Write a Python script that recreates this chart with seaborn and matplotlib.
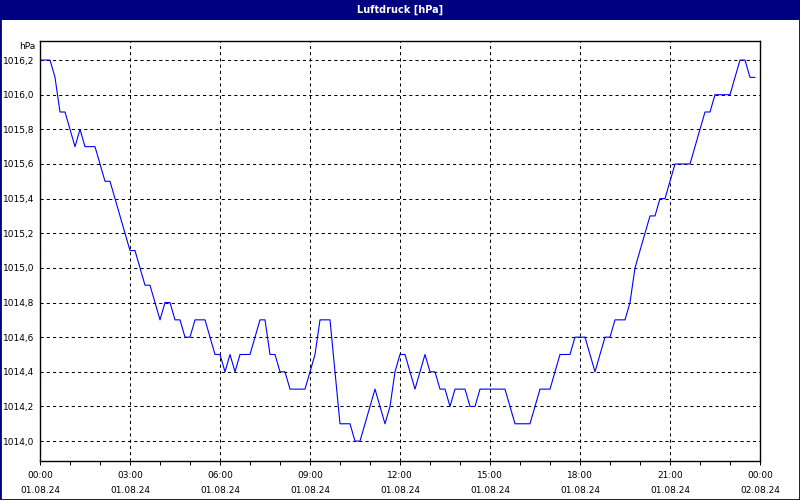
import pandas as pd
import seaborn as sns
import matplotlib.pyplot as plt
import matplotlib.dates as mdates
from matplotlib.patches import Rectangle
from matplotlib.ticker import FuncFormatter, MultipleLocator

# Luftdruck alle 10 Minuten, 01.08.24 00:00 bis 23:50
start = "2024-08-01 00:00"
pressure = [
    1016.2, 1016.2, 1016.2, 1016.1, 1015.9, 1015.9, 1015.8, 1015.7, 1015.8, 1015.7, 1015.7, 1015.7,
    1015.6, 1015.5, 1015.5, 1015.4, 1015.3, 1015.2, 1015.1, 1015.1, 1015.0, 1014.9, 1014.9, 1014.8,
    1014.7, 1014.8, 1014.8, 1014.7, 1014.7, 1014.6, 1014.6, 1014.7, 1014.7, 1014.7, 1014.6, 1014.5,
    1014.5, 1014.4, 1014.5, 1014.4, 1014.5, 1014.5, 1014.5, 1014.6, 1014.7, 1014.7, 1014.5, 1014.5,
    1014.4, 1014.4, 1014.3, 1014.3, 1014.3, 1014.3, 1014.4, 1014.5, 1014.7, 1014.7, 1014.7, 1014.4,
    1014.1, 1014.1, 1014.1, 1014.0, 1014.0, 1014.1, 1014.2, 1014.3, 1014.2, 1014.1, 1014.2, 1014.4,
    1014.5, 1014.5, 1014.4, 1014.3, 1014.4, 1014.5, 1014.4, 1014.4, 1014.3, 1014.3, 1014.2, 1014.3,
    1014.3, 1014.3, 1014.2, 1014.2, 1014.3, 1014.3, 1014.3, 1014.3, 1014.3, 1014.3, 1014.2, 1014.1,
    1014.1, 1014.1, 1014.1, 1014.2, 1014.3, 1014.3, 1014.3, 1014.4, 1014.5, 1014.5, 1014.5, 1014.6,
    1014.6, 1014.6, 1014.5, 1014.4, 1014.5, 1014.6, 1014.6, 1014.7, 1014.7, 1014.7, 1014.8, 1015.0,
    1015.1, 1015.2, 1015.3, 1015.3, 1015.4, 1015.4, 1015.5, 1015.6, 1015.6, 1015.6, 1015.6, 1015.7,
    1015.8, 1015.9, 1015.9, 1016.0, 1016.0, 1016.0, 1016.0, 1016.1, 1016.2, 1016.2, 1016.1, 1016.1,
]
times = pd.date_range(start, periods=len(pressure), freq="10min")
df = pd.DataFrame({"zeit": times, "hPa": pressure})

sns.set_style("white")
plt.rcParams['font.family'] = ['DejaVu Sans']
plt.rcParams['text.color'] = 'black'
plt.rcParams['xtick.color'] = 'black'
plt.rcParams['ytick.color'] = 'black'

fig = plt.figure(figsize=(8, 5), dpi=100)
fig.patch.set_facecolor("white")
ax = fig.add_axes([0.05, 0.078, 0.90, 0.84])

sns.lineplot(data=df, x="zeit", y="hPa", ax=ax, color="#0000ff", linewidth=0.8)

ax.set_xlim(pd.Timestamp("2024-08-01 00:00"), pd.Timestamp("2024-08-02 00:00"))
ax.set_ylim(1013.885, 1016.31)
ax.set_xlabel("")
ax.set_ylabel("")

ax.xaxis.set_major_locator(mdates.HourLocator(byhour=range(0, 24, 3)))
ax.xaxis.set_minor_locator(mdates.HourLocator())
ax.xaxis.set_major_formatter(mdates.DateFormatter("%H:%M\n%d.%m.%y"))
ax.yaxis.set_major_locator(MultipleLocator(0.2))
ax.yaxis.set_major_formatter(FuncFormatter(lambda v, p: f"{v:.1f}".replace(".", ",")))

ax.grid(True, which="major", color="black", linestyle=(0, (3, 3)), linewidth=0.75)
for s in ax.spines.values():
    s.set_color("black")
    s.set_linewidth(1)

ax.tick_params(axis="x", which="both", direction="out", length=3, width=0.75,
               bottom=True, labelsize=6.5, pad=4, color="black", labelcolor="black")
ax.tick_params(axis="y", length=0, labelsize=6.5, pad=4, labelcolor="black")
for lbl in ax.get_xticklabels():
    lbl.set_linespacing(1.9)

ax.annotate("hPa", xy=(0, 1), xycoords="axes fraction", xytext=(-3, -4),
            textcoords="offset points", ha="right", va="center", fontsize=6.5,
            color="black")

# Titelleiste und Rahmen
fig.patches.append(Rectangle((0, 0.96), 1, 0.04, transform=fig.transFigure,
                             facecolor="#000080", edgecolor="none", zorder=0))
fig.patches.append(Rectangle((0, 0), 1, 1, transform=fig.transFigure,
                             facecolor="none", edgecolor="#000080", linewidth=2, zorder=0))
fig.text(0.5, 0.981, "Luftdruck [hPa]", color="white", fontsize=7, fontweight="bold",
         ha="center", va="center")

fig.savefig("out.png", dpi=100)
